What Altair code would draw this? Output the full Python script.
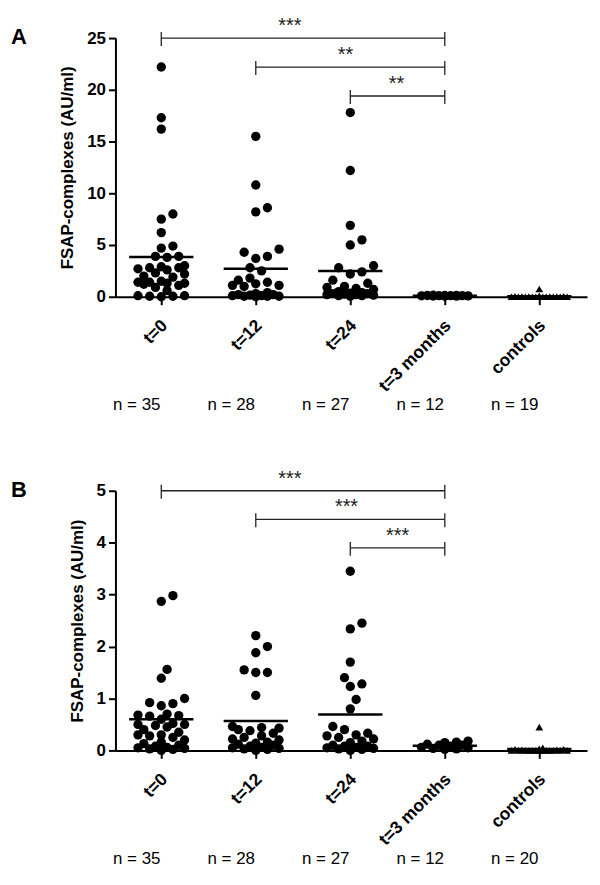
import json
import altair as alt
import numpy as np
import pandas as pd

# ---------------- data ----------------
groups = ["t=0", "t=12", "t=24", "t=3 months", "controls"]

n_a = [35, 28, 27, 12, 19]
n_b = [35, 28, 27, 12, 20]

a_t0 = [22.2, 17.3, 16.2, 8.0, 7.5, 6.2, 4.9, 4.7, 3.9, 3.9, 3.8, 3.0, 2.9, 2.8, 2.8,
        2.7, 2.6, 2.3, 2.2, 2.0, 1.9, 1.5, 1.4, 1.4, 1.3, 1.3, 1.2, 1.1, 0.9, 0.6,
        0.1, 0.05, 0.05, 0.1, 0.0]
a_t12 = [15.5, 10.8, 8.6, 8.2, 4.6, 4.3, 3.9, 3.7, 2.8, 2.5, 1.8, 1.6, 1.4, 1.25,
         1.1, 1.1, 1.0, 0.4, 0.3, 0.2, 0.2, 0.15, 0.1, 0.1, 0.05, 0.05, 0.05, 0.0]
a_t24 = [17.8, 12.2, 6.9, 5.5, 5.0, 3.0, 2.8, 2.4, 2.2, 1.6, 1.3, 1.0, 0.9, 0.8,
         0.7, 0.5, 0.4, 0.35, 0.3, 0.3, 0.25, 0.2, 0.2, 0.15, 0.1, 0.1, 0.05]
a_t3m = [0.15, 0.12, 0.1, 0.08, 0.13, 0.1, 0.05, 0.07, 0.1, 0.06, 0.09, 0.12]
a_ctrl = [0.75, 0.08, 0.05, 0.03, 0.02, 0.02, 0.01, 0.01, 0.0, 0.0, 0.0, 0.0,
          0.0, 0.0, 0.0, 0.0, 0.0, 0.0, 0.0]

b_t0 = [2.98, 2.87, 1.56, 1.39, 1.0, 0.92, 0.9, 0.86, 0.7, 0.68, 0.67, 0.66, 0.6,
        0.52, 0.5, 0.48, 0.5, 0.45, 0.4, 0.35, 0.3, 0.3, 0.28, 0.25, 0.2, 0.16,
        0.13, 0.1, 0.08, 0.06, 0.05, 0.04, 0.03, 0.02, 0.0]
b_t12 = [2.21, 2.0, 1.88, 1.55, 1.5, 1.5, 1.06, 0.46, 0.44, 0.43, 0.4, 0.38, 0.33,
         0.28, 0.25, 0.22, 0.2, 0.16, 0.14, 0.12, 0.1, 0.08, 0.06, 0.05, 0.04,
         0.03, 0.02, 0.0]
b_t24 = [3.45, 2.45, 2.34, 1.7, 1.4, 1.28, 1.23, 0.98, 0.8, 0.46, 0.4, 0.33, 0.3,
         0.28, 0.25, 0.22, 0.18, 0.15, 0.1, 0.08, 0.08, 0.06, 0.05, 0.04, 0.03,
         0.02, 0.0]
b_t3m = [0.12, 0.15, 0.18, 0.16, 0.1, 0.08, 0.05, 0.03, 0.02, 0.06, 0.1, 0.04]
b_ctrl = [0.45, 0.05, 0.03, 0.02, 0.02, 0.01, 0.01, 0.0, 0.0, 0.0, 0.0, 0.0, 0.0,
          0.0, 0.0, 0.0, 0.0, 0.0, 0.0, 0.0]

# significance brackets: (from group, to group, level)
a_brackets = [(1, 4, 25.0), (2, 4, 22.2), (3, 4, 19.4)]
a_stars = ["***", "**", "**"]
a_star_x = [2.36, 2.95, 3.49]
b_brackets = [(1, 4, 5.0), (2, 4, 4.45), (3, 4, 3.9)]
b_stars = ["***", "***", "***"]
b_star_x = [2.36, 2.96, 3.5]

a_ticks = [0, 5, 10, 15, 20, 25]
b_ticks = [0, 1, 2, 3, 4, 5]

# ---------------- layout helpers ----------------
FONT = "Liberation Sans, Arial, sans-serif"
PLOT_W = 474
CAT_PX = 95.0
XDOM = [0.515, 5.505]


def swarm(values, ppu, diam, max_px, step):
    vals = np.asarray(values, dtype=float)
    order = np.argsort(vals, kind="stable")
    cands = [0.0]
    k = 1
    while k * step <= max_px + 1e-9:
        cands += [k * step, -k * step]
        k += 1
    placed = []
    offs = np.zeros(len(vals))
    for i in order:
        y = vals[i] * ppu
        chosen = None
        best_c, best_d = 0.0, -1.0
        for c in cands:
            d = min((np.hypot(c - px, y - py) for px, py in placed), default=1e9)
            if d >= diam:
                chosen = c
                break
            if d > best_d:
                best_d, best_c = d, c
        if chosen is None:
            chosen = best_c
        placed.append((chosen, y))
        offs[i] = chosen / CAT_PX
    return offs


def panel(series, ns, ymax, ticks, brackets, stars, star_x, letter, height):
    ppu = height / ymax
    rows = []
    means = []
    for gi, vals in enumerate(series):
        ctrl = gi == 4
        offs = swarm(vals, ppu, diam=6.0 if ctrl else 9.5,
                     max_px=28 if ctrl else 24, step=3.5 if ctrl else 5.85)
        for v, o in zip(vals, offs):
            rows.append({"x": gi + 1 + o, "v": v,
                         "shape": "triangle-up" if ctrl else "circle",
                         "size": 60 if ctrl else 88})
        m = float(np.mean(vals))
        means.append({"x": gi + 1 - 0.34, "x2": gi + 1 + 0.34, "v": m})
    pts = pd.DataFrame(rows)
    mdf = pd.DataFrame(means)

    up, down = 6.0 / ppu, 8.0 / ppu
    br = pd.DataFrame([{"x": a, "x2": b, "v": lv} for a, b, lv in brackets])
    caps = pd.DataFrame([{"x": p, "v": lv + up, "v2": lv - down}
                         for a, b, lv in brackets for p in (a, b)])
    st = pd.DataFrame([{"x": sx, "v": lv, "t": s}
                       for (a, b, lv), s, sx in zip(brackets, stars, star_x)])
    ndf = pd.DataFrame([{"x": i + 1 - 0.26, "t": f"n = {n}"} for i, n in enumerate(ns)])

    xscale = alt.Scale(domain=XDOM, nice=False, zero=False)
    yscale = alt.Scale(domain=[0, ymax], nice=False, zero=False)
    label_expr = json.dumps(groups) + "[datum.value - 1]"

    xaxis = alt.Axis(values=[1, 2, 3, 4, 5], labelExpr=label_expr, labelAngle=-45,
                     labelAlign="right", labelBaseline="middle", labelPadding=18,
                     labelOffset=3, tickSize=8, title=None, grid=False,
                     labelFontSize=17.5)
    yaxis = alt.Axis(values=ticks, title="FSAP-complexes (AU/ml)", tickSize=7,
                     grid=False, labelPadding=3, titlePadding=10)

    X = alt.X("x:Q", scale=xscale, axis=xaxis)
    Y = alt.Y("v:Q", scale=yscale, axis=yaxis)

    points = alt.Chart(pts).mark_point(filled=True, color="black", opacity=1).encode(
        x=X, y=Y,
        shape=alt.Shape("shape:N", scale=None),
        size=alt.Size("size:Q", scale=None),
    )
    mean_lines = alt.Chart(mdf).mark_rule(color="black", strokeWidth=2.5).encode(
        x=X, x2="x2:Q", y=Y,
    )
    br_lines = alt.Chart(br).mark_rule(color="#222", strokeWidth=1.3).encode(
        x=X, x2="x2:Q", y=Y,
    )
    cap_lines = alt.Chart(caps).mark_rule(color="#222", strokeWidth=1.3).encode(
        x=X, y=Y, y2="v2:Q",
    )
    star_text = alt.Chart(st).mark_text(font=FONT, fontSize=20, dy=-6,
                                        baseline="alphabetic", color="#222").encode(
        x=X, y=Y, text="t:N",
    )
    n_text = alt.Chart(ndf).mark_text(font=FONT, fontSize=17, baseline="middle",
                                      color="black").encode(
        x=X, y=alt.value(height + 109), text="t:N",
    )
    return alt.layer(points, mean_lines, br_lines, cap_lines, star_text, n_text).properties(
        width=PLOT_W, height=height,
        title=alt.TitleParams(letter, anchor="start", frame="group", dx=-105, dy=33,
                              fontSize=22, font=FONT, fontWeight="bold", color="black",
                              offset=0),
    )


pa = panel([a_t0, a_t12, a_t24, a_t3m, a_ctrl], n_a, 25, a_ticks,
           a_brackets, a_stars, a_star_x, "A", 260)
pb = panel([b_t0, b_t12, b_t24, b_t3m, b_ctrl], n_b, 5, b_ticks,
           b_brackets, b_stars, b_star_x, "B", 261)

chart = alt.vconcat(pa, pb, spacing=195, bounds="flush").properties(
    padding={"left": 3, "top": 6, "right": 5, "bottom": 5}
).configure_view(stroke=None).configure_axis(
    domainColor="black", domainWidth=2, tickColor="black", tickWidth=2,
    labelFont=FONT, labelFontWeight="bold", labelFontSize=17, labelColor="black",
    titleFont=FONT, titleFontWeight="bold", titleFontSize=17, titleColor="black",
)

chart.save("out.html", embed_options={"renderer": "svg", "actions": False})
